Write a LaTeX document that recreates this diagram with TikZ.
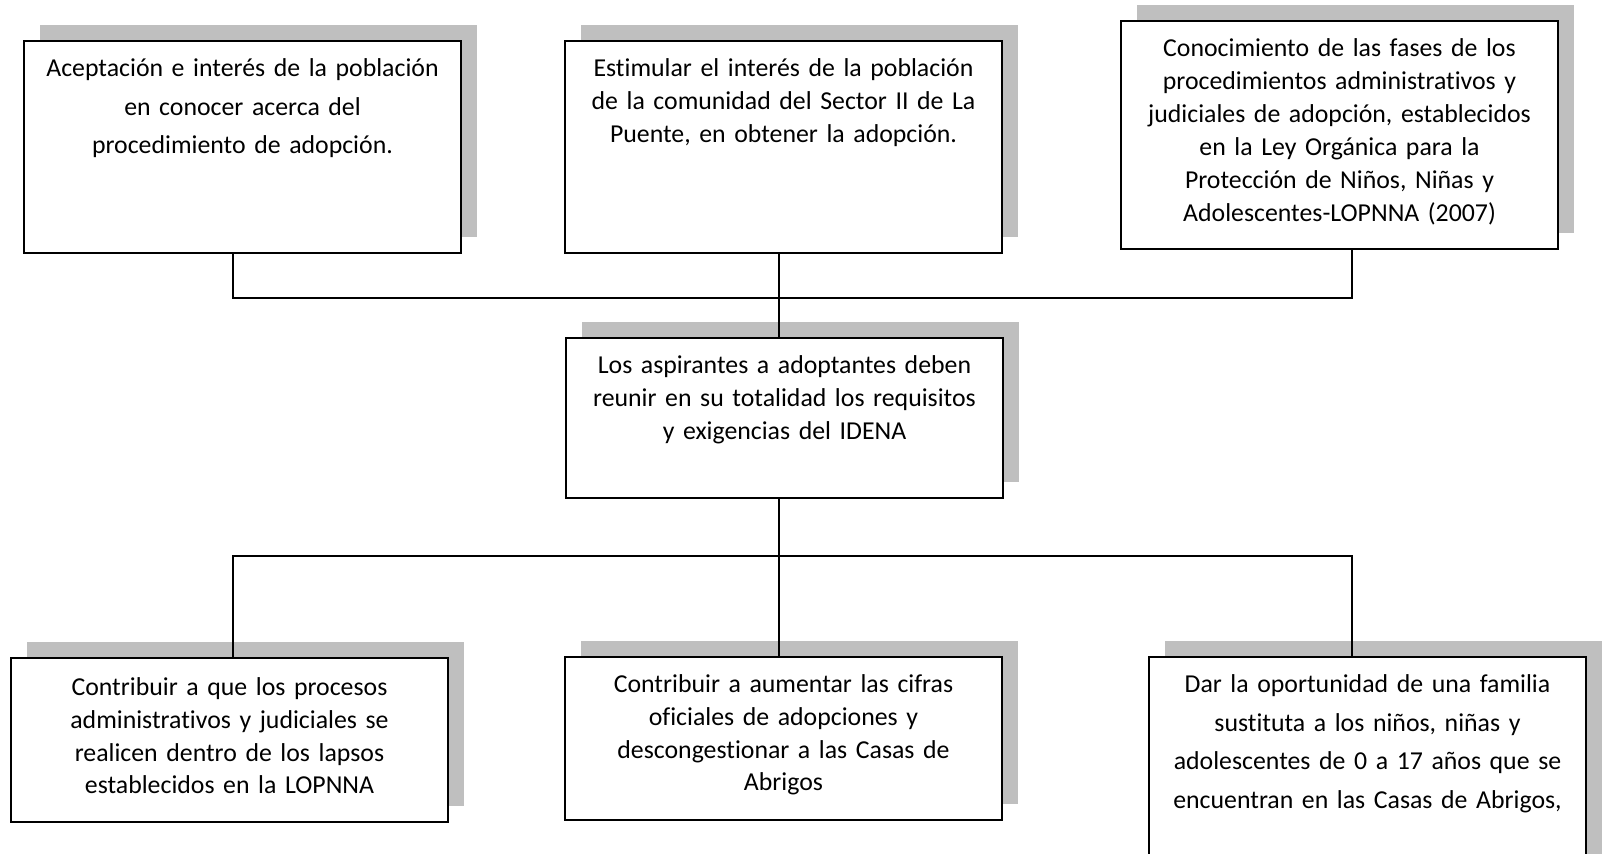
\documentclass[tikz,border=0pt]{standalone}
\usepackage{fontspec}
\setmainfont{Carlito}[Ligatures={NoCommon}]
\usetikzlibrary{shadows}
\definecolor{boxshadow}{HTML}{BFBFBF}

\begin{document}
\begin{tikzpicture}[x=0.5pt,y=-0.5pt,line width=0.8pt,
                    every node/.style={draw,fill=white,anchor=north west,align=center,
                      inner xsep=4pt,inner ysep=5pt,text height=13pt,text width=210.7pt,
                      font=\fontsize{12.9}{16.3}\selectfont,
                      drop shadow={shadow xshift=8pt,shadow yshift=8pt,fill=boxshadow,opacity=1}},
                    loose/.style={font=\fontsize{12.9}{19.2}\selectfont}]
\useasboundingbox (0,0) rectangle (1604,853);
\clip (0,0) rectangle (1604,853);

% objetivos
\node[loose,text depth=83pt] (obj1) at (23,40) {Aceptación e interés de la población\\en conocer acerca del\\procedimiento de adopción.};
\node[text depth=83pt] (obj2) at (564,40) {Estimular el interés de la población\\de la comunidad del Sector II de La\\Puente, en obtener la adopción.};
\node[text depth=91pt,font=\fontsize{12.9}{16.5}\selectfont] (obj3) at (1120,20) {Conocimiento de las fases de los\\procedimientos administrativos y\\judiciales de adopción, establecidos\\en la Ley Orgánica para la\\Protección de Niños, Niñas y\\Adolescentes-LOPNNA (2007)};

\node[text depth=57pt] (centre) at (565,337) {Los aspirantes a adoptantes deben\\reunir en su totalidad los requisitos\\y exigencias del IDENA};

% resultados
\node[text depth=58pt,text height=14pt] (res1) at (10,657) {Contribuir a que los procesos\\administrativos y judiciales se\\realicen dentro de los lapsos\\establecidos en la LOPNNA};
\node[text depth=58.5pt] (res2) at (564,656) {Contribuir a aumentar las cifras\\oficiales de adopciones y\\descongestionar a las Casas de\\Abrigos};
\node[loose,text depth=94pt] (res3) at (1148,656) {Dar la oportunidad de una familia\\sustituta a los niños, niñas y\\adolescentes de 0 a 17 años que se\\encuentran en las Casas de Abrigos,};

\coordinate (busL) at (233,298);
\coordinate (busC) at (779,298);
\coordinate (busR) at (1352,298);
\coordinate (lowL) at (233,556);
\coordinate (lowC) at (779,556);
\coordinate (lowR) at (1352,556);

\draw (obj1.south -| busL) -- (busL) -- (busR) -- (obj3.south -| busR);
\draw (obj2.south -| busC) -- (centre.north -| busC);
\draw (res1.north -| lowL) -- (lowL) -- (lowR) -- (res3.north -| lowR);
\draw (centre.south -| lowC) -- (res2.north -| lowC);
\end{tikzpicture}
\end{document}
